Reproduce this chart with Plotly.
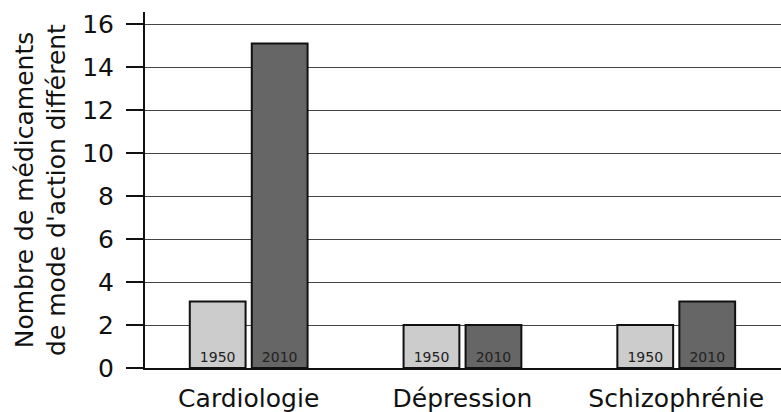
import plotly.graph_objects as go

categories = ["Cardiologie", "Dépression", "Schizophrénie"]
values_1950 = [3.1, 2, 2]
values_2010 = [15.1, 2, 3.1]
series_names = ["1950", "2010"]
y_ticks = [0, 2, 4, 6, 8, 10, 12, 14, 16]

fig = go.Figure()
fig.add_trace(go.Bar(
    x=categories, y=values_1950, name=series_names[0],
    marker=dict(color="#cccccc", line=dict(color="#111111", width=2)),
    text=[series_names[0]] * len(categories), textposition="inside",
    insidetextanchor="start", textangle=0,
    textfont=dict(size=14, color="#222222", family="DejaVu Sans"),
))
fig.add_trace(go.Bar(
    x=categories, y=values_2010, name=series_names[1],
    marker=dict(color="#666666", line=dict(color="#111111", width=2)),
    text=[series_names[1]] * len(categories), textposition="inside",
    insidetextanchor="start", textangle=0,
    textfont=dict(size=14, color="#222222", family="DejaVu Sans"),
))

fig.update_layout(
    width=781, height=412,
    margin=dict(l=145, r=0, t=12, b=44),
    barmode="group", bargap=0.42, bargroupgap=0.1,
    plot_bgcolor="white", paper_bgcolor="white",
    showlegend=False,
    font=dict(family="DejaVu Sans", size=25, color="#111111"),
    uniformtext=dict(minsize=14, mode="show"),
)
fig.update_xaxes(
    range=[-0.485, 2.49], showgrid=False, automargin=False,
    showline=True, linecolor="#111111", linewidth=2,
    ticks="", tickfont=dict(size=25), ticklabelstandoff=7,
)
fig.update_yaxes(
    range=[0, 16.57], tickvals=y_ticks, automargin=False,
    showgrid=True, gridcolor="#444444", gridwidth=1,
    showline=True, linecolor="#111111", linewidth=2,
    ticks="outside", ticklen=17, tickwidth=2, tickcolor="#111111",
    tickfont=dict(size=25), zeroline=False, ticklabelstandoff=7,
    title=dict(text="Nombre de médicaments<br>de mode d'action différent",
               font=dict(size=25), standoff=9),
)

fig.write_html(
    "out.html",
    config={"displayModeBar": False},
    post_script="document.body.style.margin='0';document.body.style.overflow='hidden';",
)
